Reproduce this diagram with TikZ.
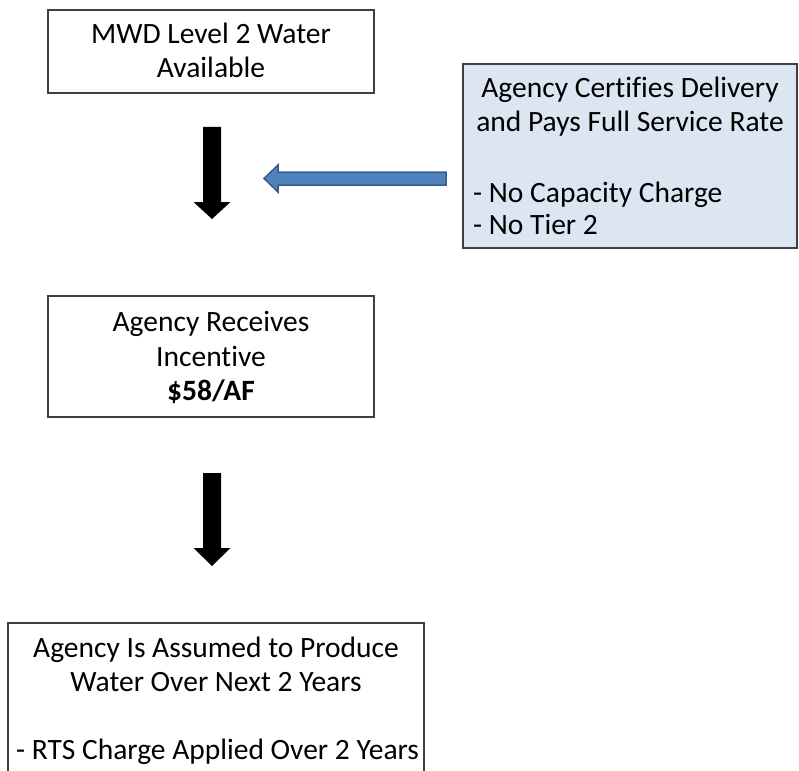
\documentclass[tikz,border=0pt]{standalone}
\usepackage{fontspec}
\setmainfont[Ligatures=NoCommon]{Carlito}
\usetikzlibrary{calc}
\definecolor{boxline}{HTML}{404040}
\definecolor{bluefill}{HTML}{DCE6F2}
\definecolor{arrowblue}{HTML}{4F81BD}
\definecolor{arrowedge}{HTML}{385D8A}
\begin{document}
\begin{tikzpicture}[x=1pt,y=-1pt,
  box/.style={draw=boxline, line width=1.2pt, inner sep=0pt},
  txt/.style={font=\fontsize{29.5}{34}\selectfont, inner sep=0pt, anchor=base},
  ltxt/.style={txt, anchor=base west},
  blockarrow/.style={fill=black},
  bluearrow/.style={fill=arrowblue, draw=arrowedge, line width=1.5pt, line join=miter}]
\useasboundingbox (0,0) rectangle (799,770);
\clip (0,0) rectangle (799,770);
% boxes
\node[box, minimum width=326pt, minimum height=83pt] (b1) at (211,51.5) {};
\node[box, minimum width=326pt, minimum height=121pt] (b2) at (211,356.5) {};
\node[box, fill=bluefill, minimum width=334pt, minimum height=184pt] (b4) at (630,156) {};
\node[box, minimum width=416pt, minimum height=177pt] (b3) at (216,711.5) {};
% texts
\node[txt] (t1a) at (211,44) {MWD Level 2 Water};
\node[txt] (t1b) at (211,78) {Available};
\node[txt] (t2a) at (211,331) {Agency Receives};
\node[txt] (t2b) at (211,366) {Incentive};
\node[txt] (t2c) at (211,400) {\textbf{\$58/AF}};
\node[txt] (t4a) at (630,98) {Agency Certifies Delivery};
\node[txt] (t4b) at (630,132) {and Pays Full Service Rate};
\node[ltxt] (t4c) at (473,202) {- No Capacity Charge};
\node[ltxt] (t4d) at (473,234) {- No Tier 2};
\node[txt] (t3a) at (216,657) {Agency Is Assumed to Produce};
\node[txt] (t3b) at (216,691) {Water Over Next 2 Years};
\node[ltxt] (t3c) at (16,759) {- RTS Charge Applied Over 2 Years};
% block arrows
\coordinate (a1s) at (212,127);
\coordinate (a1e) at (212,219);
\coordinate (a2s) at (212,473);
\coordinate (a2e) at (212,566);
\fill[blockarrow] ($(a1s)+(-9,0)$) -- ($(a1s)+(9,0)$) -- ($(a1e)+(9,-17)$) -- ($(a1e)+(18.5,-17)$) -- (a1e) -- ($(a1e)+(-18.5,-17)$) -- ($(a1e)+(-9,-17)$) -- cycle;
\fill[blockarrow] ($(a2s)+(-9,0)$) -- ($(a2s)+(9,0)$) -- ($(a2e)+(9,-18)$) -- ($(a2e)+(18.5,-18)$) -- (a2e) -- ($(a2e)+(-18.5,-18)$) -- ($(a2e)+(-9,-18)$) -- cycle;
\coordinate (bs) at (446,178.5);
\coordinate (be) at (264,178.5);
\draw[bluearrow] ($(bs)+(0,-6.5)$) -- ($(be)+(14,-6.5)$) -- ($(be)+(14,-13.5)$) -- (be) -- ($(be)+(14,13.5)$) -- ($(be)+(14,6.5)$) -- ($(bs)+(0,6.5)$) -- cycle;
\end{tikzpicture}
\end{document}
